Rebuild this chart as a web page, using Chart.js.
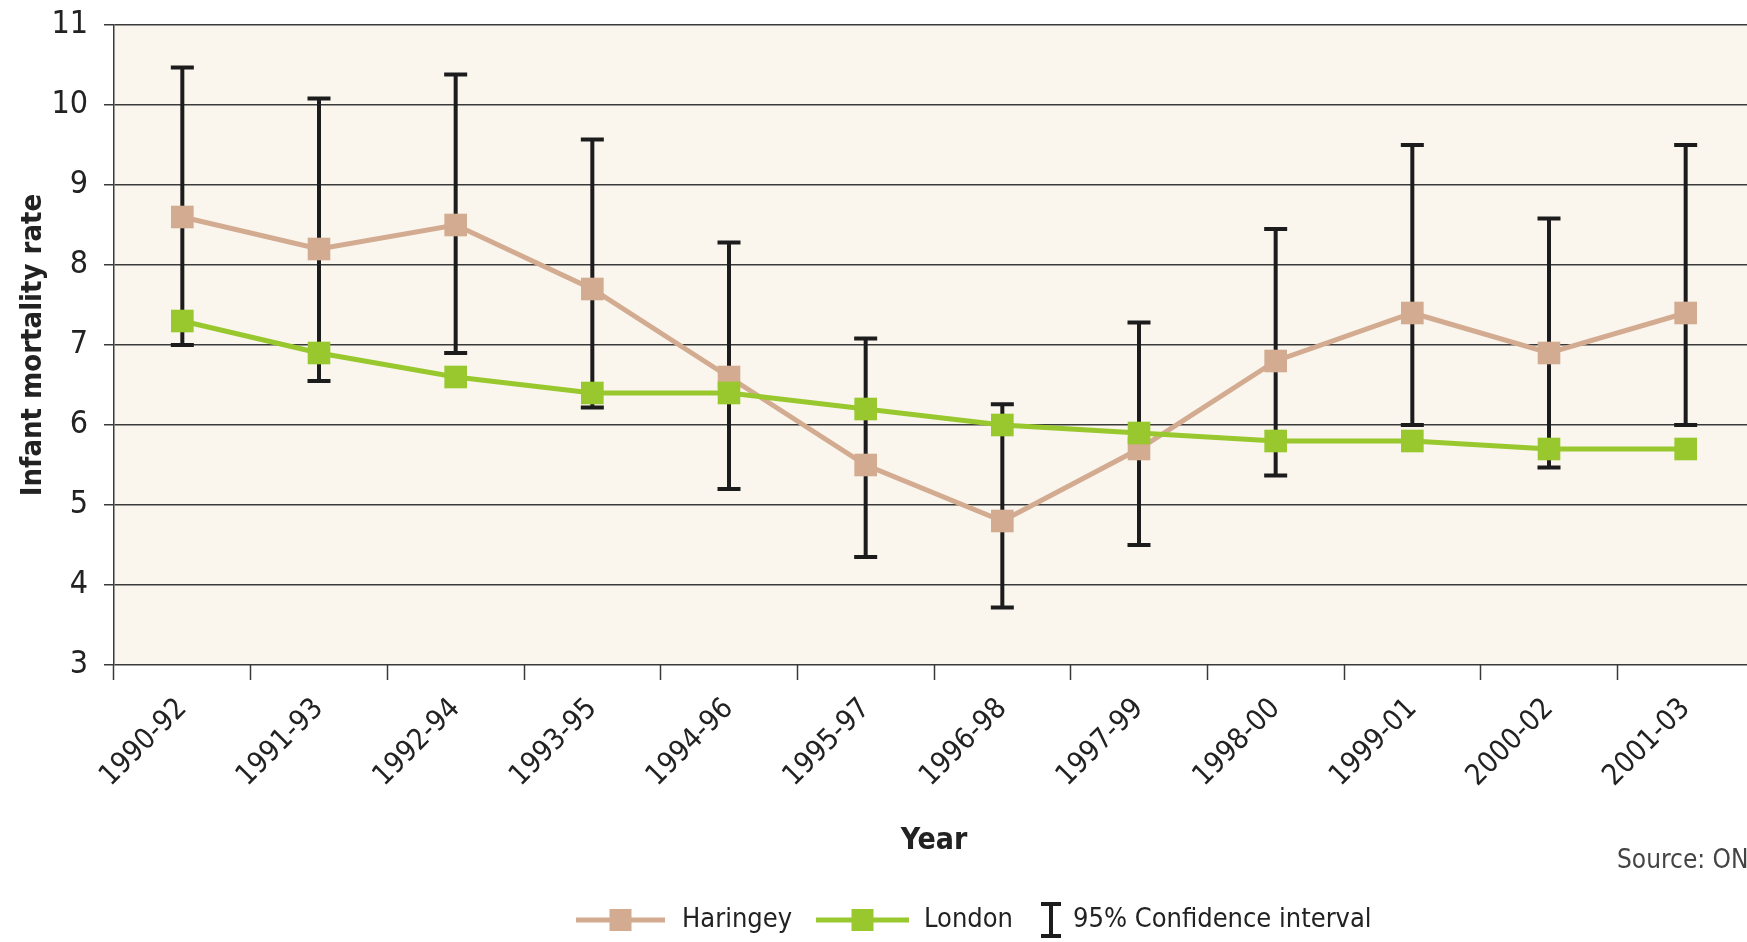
<!DOCTYPE html>
<html>
<head>
<meta charset="utf-8">
<title>Infant mortality rate</title>
<script src="https://cdn.jsdelivr.net/npm/chart.js@4.4.1/dist/chart.umd.min.js"></script>
<style>
  html, body { margin: 0; padding: 0; background: #fff; overflow: hidden; }
  #wrap { width: 1770px; height: 942px; }
</style>
</head>
<body>
<div id="wrap"><canvas id="chart" width="1770" height="942"></canvas></div>
<script>
// values
const years = ["1990-92", "1991-93", "1992-94", "1993-95", "1994-96", "1995-97",
  "1996-98", "1997-99", "1998-00", "1999-01", "2000-02", "2001-03"]
const haringey = [8.6, 8.2, 8.5, 7.7, 6.6, 5.5, 4.8, 5.7, 6.8, 7.4, 6.9, 7.4]
const london = [7.3, 6.9, 6.6, 6.4, 6.4, 6.2, 6.0, 5.9, 5.8, 5.8, 5.7, 5.7]
const ciLower = [7.0, 6.55, 6.9, 6.22, 5.2, 4.35, 3.72, 4.5, 5.37, 6.0, 5.47, 6.0]
const ciUpper = [10.47, 10.08, 10.38, 9.57, 8.28, 7.08, 6.26, 7.28, 8.45, 9.5, 8.58, 9.5]
const yMin = 3
const yMax = 11

const FONT = "'DejaVu Sans Condensed', 'Liberation Sans Narrow', 'Open Sans', sans-serif"
const TAN = "#d3ab90"
const GREEN = "#98c82e"
const INK = "#1c1c1c"
const GRID = "#3a3a3a"

const plotFill = {
  id: "plotFill",
  beforeDraw(chart) {
    const {ctx, chartArea: a} = chart
    ctx.save()
    ctx.fillStyle = "#faf6ee"
    ctx.fillRect(a.left, a.top, a.right - a.left, a.bottom - a.top)
    ctx.restore()
  }
}

// 95% confidence intervals, drawn under the lines
const errorBars = {
  id: "errorBars",
  beforeDatasetsDraw(chart) {
    const {ctx, scales: {x, y}} = chart
    ctx.save()
    ctx.strokeStyle = INK
    ctx.lineWidth = 4
    ciLower.forEach((lo, i) => {
      const px = x.getPixelForValue(i)
      const top = y.getPixelForValue(ciUpper[i])
      const bottom = y.getPixelForValue(lo)
      ctx.beginPath()
      ctx.moveTo(px, top)
      ctx.lineTo(px, bottom)
      ctx.moveTo(px - 11.5, top)
      ctx.lineTo(px + 11.5, top)
      ctx.moveTo(px - 11.5, bottom)
      ctx.lineTo(px + 11.5, bottom)
      ctx.stroke()
    })
    ctx.restore()
  }
}

const legendAndSource = {
  id: "legendAndSource",
  afterDraw(chart) {
    const {ctx} = chart
    const cy = 920
    ctx.save()
    ctx.textBaseline = "middle"
    ctx.font = `27px ${FONT}`
    ctx.fillStyle = "#222"

    const lineItem = (x0, x1, color, label, tx) => {
      ctx.strokeStyle = color
      ctx.lineWidth = 5
      ctx.beginPath()
      ctx.moveTo(x0, cy)
      ctx.lineTo(x1, cy)
      ctx.stroke()
      ctx.fillStyle = color
      const mid = (x0 + x1) / 2
      ctx.fillRect(mid - 11, cy - 11, 22, 22)
      ctx.fillStyle = "#222"
      ctx.fillText(label, tx, cy)
    }
    lineItem(576, 665, TAN, "Haringey", 682)
    lineItem(816, 909, GREEN, "London", 924)

    // confidence interval glyph
    ctx.strokeStyle = INK
    ctx.lineWidth = 4
    ctx.beginPath()
    ctx.moveTo(1051, cy - 16)
    ctx.lineTo(1051, cy + 16)
    ctx.moveTo(1041, cy - 16)
    ctx.lineTo(1061, cy - 16)
    ctx.moveTo(1041, cy + 16)
    ctx.lineTo(1061, cy + 16)
    ctx.stroke()
    ctx.fillStyle = "#222"
    ctx.fillText("95% Confidence interval", 1073, cy)

    ctx.font = `26px ${FONT}`
    ctx.fillStyle = "#444"
    ctx.fillText("Source: ONS", 1617, 861)
    ctx.restore()
  }
}

new Chart(document.getElementById("chart"), {
  type: "line",
  data: {
    labels: years,
    datasets: [
      {
        label: "London",
        data: london,
        order: 0,
        borderColor: GREEN,
        backgroundColor: GREEN,
        borderWidth: 5,
        pointStyle: "rect",
        pointRadius: 16,
        pointBorderWidth: 0,
        tension: 0
      },
      {
        label: "Haringey",
        data: haringey,
        order: 1,
        borderColor: TAN,
        backgroundColor: TAN,
        borderWidth: 5,
        pointStyle: "rect",
        pointRadius: 16,
        pointBorderWidth: 0,
        tension: 0
      }
    ]
  },
  options: {
    responsive: false,
    animation: false,
    layout: {padding: {top: 25, right: 13, bottom: 0, left: 0}},
    plugins: {
      legend: {display: false},
      tooltip: {enabled: false}
    },
    scales: {
      x: {
        offset: true,
        grid: {
          offset: true,
          drawOnChartArea: false,
          tickLength: 15,
          tickWidth: 1.5,
          tickColor: GRID
        },
        border: {display: false},
        ticks: {
          minRotation: 45,
          maxRotation: 45,
          padding: 12,
          color: "#222",
          font: {family: FONT, size: 29}
        },
        title: {
          display: true,
          text: "Year",
          color: "#222",
          font: {family: FONT, size: 30, weight: "bold"},
          padding: {top: 0, bottom: 83}
        },
        afterFit(scale) { scale.height = 277 }
      },
      y: {
        min: yMin,
        max: yMax,
        ticks: {
          stepSize: 1,
          padding: 16,
          color: "#222",
          font: {family: FONT, size: 32}
        },
        grid: {
          color: GRID,
          lineWidth: 1.5,
          tickLength: 10
        },
        border: {display: true, color: GRID, width: 1.5},
        title: {
          display: true,
          text: "Infant mortality rate",
          color: "#222",
          font: {family: FONT, size: 29, weight: "bold"},
          padding: {top: 16, bottom: 0}
        },
        afterFit(scale) {
          scale.width = 114
          scale.paddingTop = 0
          scale.paddingBottom = 0
        }
      }
    }
  },
  plugins: [plotFill, errorBars, legendAndSource]
})
</script>
</body>
</html>
